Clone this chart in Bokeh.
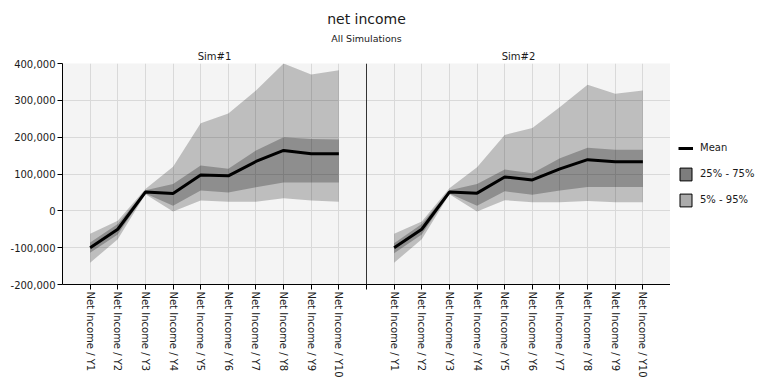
from bokeh.plotting import figure
from bokeh.layouts import row
from bokeh.models import (Range1d, FixedTicker, NumeralTickFormatter, Span, Title,
                          Legend, LegendItem, LinearAxis)
from bokeh.embed import file_html
from bokeh.resources import INLINE

# ---- data ----
years = ["Y1", "Y2", "Y3", "Y4", "Y5", "Y6", "Y7", "Y8", "Y9", "Y10"]
sims = ["Sim#1", "Sim#2"]
item_name = "Net Income"

sim1_mean = [-100000, -50000, 51000, 47000, 97000, 95000, 134000, 164000, 155000, 155000]
sim1_p5   = [-141000, -77000, 45000, -2000, 28000, 25000, 25000, 34000, 28000, 25000]
sim1_p95  = [-62000, -27000, 59000, 120000, 238000, 264000, 327000, 400000, 370000, 382000]
sim1_p25  = [-114000, -64000, 47000, 14000, 55000, 50000, 64000, 77000, 77000, 77000]
sim1_p75  = [-86000, -36000, 56000, 73000, 123000, 114000, 164000, 200000, 195000, 194000]

sim2_mean = [-100000, -50000, 51000, 48000, 92000, 84000, 114000, 139000, 133000, 133000]
sim2_p5   = [-141000, -77000, 45000, -2000, 29000, 23000, 23000, 27000, 23000, 23000]
sim2_p95  = [-62000, -29000, 61000, 118000, 206000, 225000, 282000, 342000, 318000, 327000]
sim2_p25  = [-115000, -64000, 47000, 14000, 53000, 44000, 55000, 65000, 65000, 65000]
sim2_p75  = [-88000, -36000, 56000, 73000, 112000, 102000, 143000, 171000, 166000, 166000]

y_ticks = [-200000, -100000, 0, 100000, 200000, 300000, 400000]

series = [
    (sim1_mean, sim1_p5, sim1_p95, sim1_p25, sim1_p75),
    (sim2_mean, sim2_p5, sim2_p95, sim2_p25, sim2_p75),
]

n = len(years)
slot = n + 1  # slots per panel

FONT = "DejaVu Sans"
TXT = "#1a1a1a"
H = 391
TOP = 63
BOTTOM = 107
NAN = float("nan")

p = figure(width=670, height=H,
           x_range=Range1d(0, slot * len(sims)),
           y_range=Range1d(y_ticks[0], y_ticks[-1]),
           output_backend="svg", toolbar_location=None,
           min_border_left=62, min_border_top=TOP, min_border_bottom=BOTTOM,
           min_border_right=0)
p.title.visible = False
p.background_fill_color = "#f4f4f4"
p.border_fill_color = "white"
p.outline_line_color = None

# ticks
xt = []
overrides = {}
for s in range(len(sims)):
    for i, yname in enumerate(years):
        pos = s * slot + i + 1
        xt.append(pos)
        overrides[pos] = f"{item_name} / {yname}"
    xt.append((s + 1) * slot)
    overrides[(s + 1) * slot] = ""

p.xaxis.ticker = FixedTicker(ticks=xt)
p.xaxis.major_label_overrides = overrides
p.xaxis.major_label_orientation = "vertical"
p.yaxis.ticker = FixedTicker(ticks=y_ticks)
p.yaxis.formatter = NumeralTickFormatter(format="0,0")

for ax in (p.xaxis[0], p.yaxis[0]):
    ax.axis_line_color = "black"
    ax.axis_line_width = 1
    ax.major_tick_line_color = "black"
    ax.major_tick_out = 5
    ax.major_tick_in = 0
    ax.minor_tick_line_color = None
    ax.major_label_text_font = FONT
    ax.major_label_text_font_size = "10px"
    ax.major_label_text_color = TXT
    ax.major_label_standoff = 2

p.xgrid.grid_line_color = "#d9d9d9"
p.ygrid.grid_line_color = "#d9d9d9"

for s, (mean, p5, p95, p25, p75) in enumerate(series):
    xs = [s * slot + i + 1 for i in range(n)]
    p.varea(x=xs, y1=p5, y2=p95, fill_color="black", fill_alpha=0.22)
    p.varea(x=xs, y1=p25, y2=p75, fill_color="black", fill_alpha=0.25)
    p.line(x=xs, y=mean, line_color="black", line_width=3)

p.add_layout(Span(location=slot, dimension="height", line_color="#333333", line_width=1))

# panel headers as a tick-less axis above
sim_pos = [s * slot + slot / 2 for s in range(len(sims))]
top_axis = LinearAxis(ticker=FixedTicker(ticks=sim_pos),
                      major_label_overrides={sim_pos[s]: sims[s] for s in range(len(sims))},
                      axis_line_color=None, major_tick_line_color=None,
                      minor_tick_line_color=None, major_label_standoff=2,
                      major_tick_out=0, major_tick_in=0,
                      major_label_text_font=FONT, major_label_text_font_size="10px",
                      major_label_text_color=TXT)
p.add_layout(top_axis, "above")

# titles
p.add_layout(Title(text="All Simulations", align="center", text_font=FONT,
                   text_font_size="9.5px", text_font_style="normal", text_color=TXT,
                   standoff=7), "above")
p.add_layout(Title(text="net income", align="center", text_font=FONT,
                   text_font_size="14px", text_font_style="normal", text_color=TXT,
                   standoff=2), "above")

# legend in its own small panel
lg = figure(width=98, height=H, x_range=Range1d(0, 1), y_range=Range1d(0, 1),
            output_backend="svg", toolbar_location=None,
            min_border_left=0, min_border_right=0,
            min_border_top=TOP, min_border_bottom=BOTTOM)
lg.title.visible = False
lg.axis.visible = False
lg.grid.visible = False
lg.outline_line_color = None
lg.background_fill_color = "white"
lg.border_fill_color = "white"

# placeholder renderers (no visible data) that only provide legend swatches
r_mean = lg.line(x=[NAN], y=[NAN], line_color="black", line_width=3)
r_iqr = lg.quad(left=[NAN], right=[NAN], top=[NAN], bottom=[NAN],
                fill_color="#7d7d7d", line_color="black")
r_90 = lg.quad(left=[NAN], right=[NAN], top=[NAN], bottom=[NAN],
               fill_color="#ababab", line_color="black")
legend = Legend(items=[LegendItem(label="Mean", renderers=[r_mean]),
                       LegendItem(label="25% - 75%", renderers=[r_iqr]),
                       LegendItem(label="5% - 95%", renderers=[r_90])],
                location="center_left", margin=8, padding=0, spacing=10,
                glyph_width=15, glyph_height=16, label_height=16, label_standoff=7,
                label_text_font=FONT, label_text_font_size="10px", label_text_color=TXT,
                border_line_color=None, background_fill_alpha=0)
lg.add_layout(legend, "center")

layout = row(p, lg, spacing=0)
open("out.html", "w").write(file_html(layout, INLINE))
